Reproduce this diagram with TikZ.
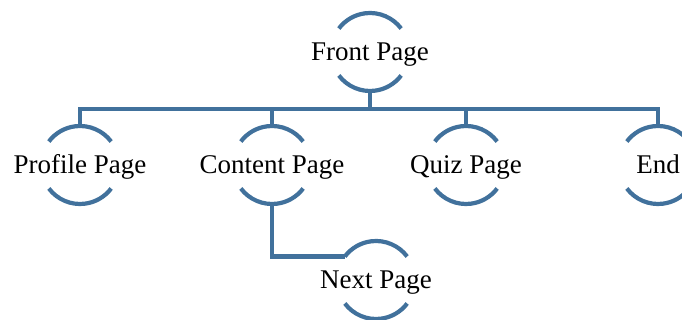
\documentclass[tikz,border=0pt]{standalone}
\usepackage{fontspec}
\setmainfont{Liberation Serif}
\usepackage{tikz}
\usetikzlibrary{calc}
\definecolor{ringblue}{RGB}{65,113,156}
\colorlet{linkblue}{ringblue}

\begin{document}
\begin{tikzpicture}[x=1pt,y=1pt,
        page/.style={rectangle, inner sep=0pt, minimum height=78pt,
            text height=18pt, text depth=0pt,
            font=\fontsize{27}{30}\selectfont},
        link/.style={linkblue, line width=4.2pt}]
        \useasboundingbox (0,0) rectangle (682,320);
        \node[page] (front) at (370,268) {Front Page};
        \node[page] (profile) at (80,155) {Profile Page};
        \node[page] (content) at (272,155) {Content Page};
        \node[page] (quiz) at (466,155) {Quiz Page};
        \node[page] (end) at (658,155) {End};
        \node[page] (next) at (376,40) {Next Page};
        \foreach \n in {front,profile,content,quiz,end,next}{
            \draw[link] ([shift={(37:39)}]\n.center) arc[start angle=37, end angle=143, radius=39];
            \draw[link] ([shift={(217:39)}]\n.center) arc[start angle=217, end angle=323, radius=39];
        }
        \coordinate (bus) at ($(front.south)+(0,-18)$);
        \coordinate (nextin) at ([shift={(143:39)}]next.center);
        \draw[link] (front.south) -- (bus);
        \draw[link] (profile.north) |- (bus -| end.north) -- (end.north);
        \foreach \n in {content,quiz}{
            \draw[link] (\n.north) -- (\n.north |- bus);
        }
        \draw[link] (content.south) |- (nextin);
    \end{tikzpicture}
\end{document}
